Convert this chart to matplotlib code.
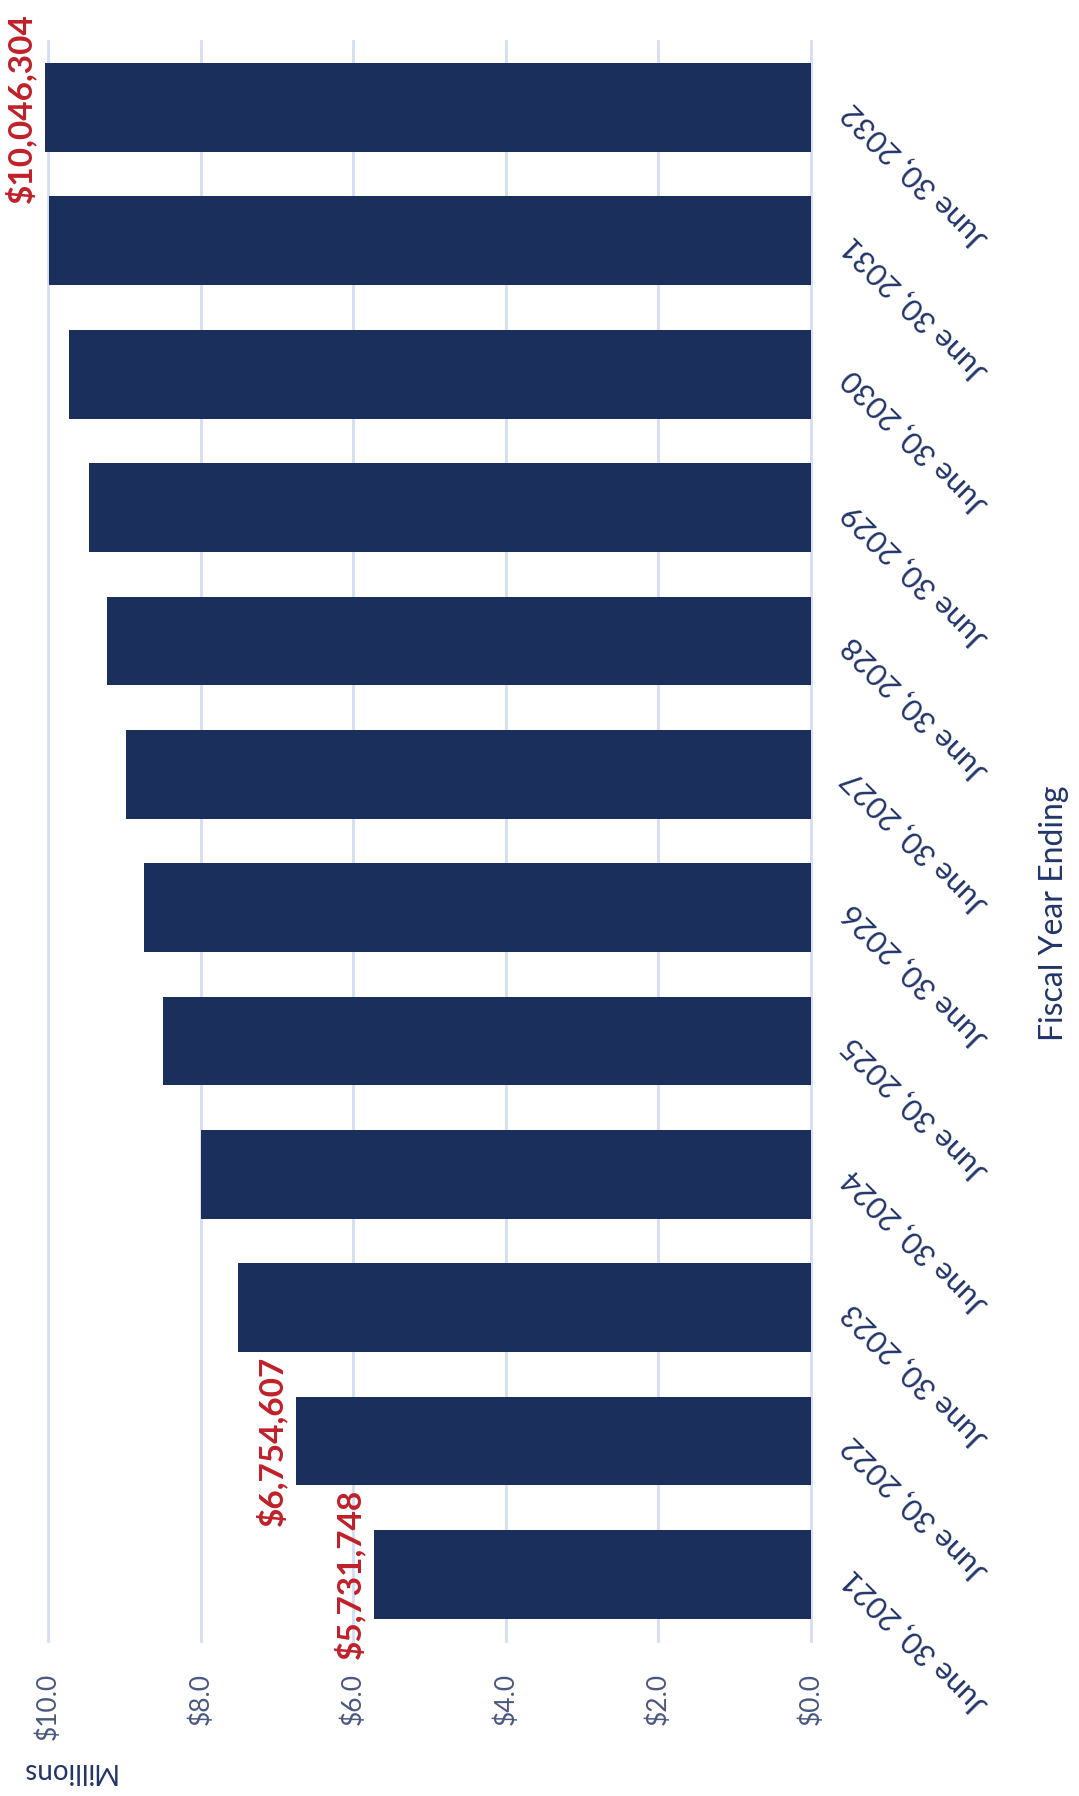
import matplotlib.pyplot as plt
import numpy as np

plt.rcParams['font.family'] = ['Lato', 'DejaVu Sans']

# fiscal years and funding amounts (dollars)
years = [2021, 2022, 2023, 2024, 2025, 2026, 2027, 2028, 2029, 2030, 2031, 2032]
amounts = [5731748, 6754607, 7510000, 8000000, 8490000, 8750000,
           8985000, 9230000, 9470000, 9730000, 9990000, 10046304]
labeled_years = [2021, 2022, 2032]
ticks = [0, 2, 4, 6, 8, 10]

BAR = '#1b2f5d'
NAVY = '#22356a'
TICK = '#4a5780'
RED = '#c0202a'
GRID = '#d3def2'

fig = plt.figure(figsize=(10.79, 17.96), dpi=100)
ax = fig.add_axes([0.0448, 0.0863, 0.7065, 0.8909])

pos = np.arange(len(years))
millions = np.array(amounts) / 1e6
ax.barh(pos, millions, height=0.667, color=BAR, clip_on=False, zorder=2)

ax.set_xlim(10, 0)
ax.set_ylim(-0.5, len(years) - 0.5)

ax.set_xticks(ticks)
ax.set_xticklabels(['${:.1f}'.format(t) for t in ticks], rotation=90,
                   fontsize=19, color=TICK)
ax.tick_params(axis='x', length=0, pad=23)

ax.yaxis.tick_right()
ax.set_yticks(pos)
ax.set_yticklabels(['June 30, {}'.format(y) for y in years], rotation=135,
                   ha='right', va='center', rotation_mode='anchor',
                   fontsize=22, color=NAVY)
ax.tick_params(axis='y', length=0, pad=26)

ax.grid(axis='x', color=GRID, linewidth=2)
ax.set_axisbelow(True)
for gl in ax.get_xgridlines():
    gl.set_clip_on(False)
for s in ax.spines.values():
    s.set_visible(False)

for y, v in zip(years, amounts):
    if y in labeled_years:
        i = years.index(y)
        ax.annotate('${:,}'.format(v), xy=(v / 1e6, i), xytext=(-9, 0),
                    textcoords='offset pixels', rotation=90, ha='right',
                    va='center', fontsize=24, fontweight='bold', color=RED,
                    annotation_clip=False)

fig.text(0.9768, 0.4914, 'Fiscal Year Ending', rotation=90, ha='center',
         va='center', fontsize=23, color=NAVY)
fig.text(0.063, 0.0139, 'Millions', rotation=180, ha='center', va='center',
         fontsize=20, color=NAVY)

fig.savefig('out.png', dpi=100, facecolor='white')
